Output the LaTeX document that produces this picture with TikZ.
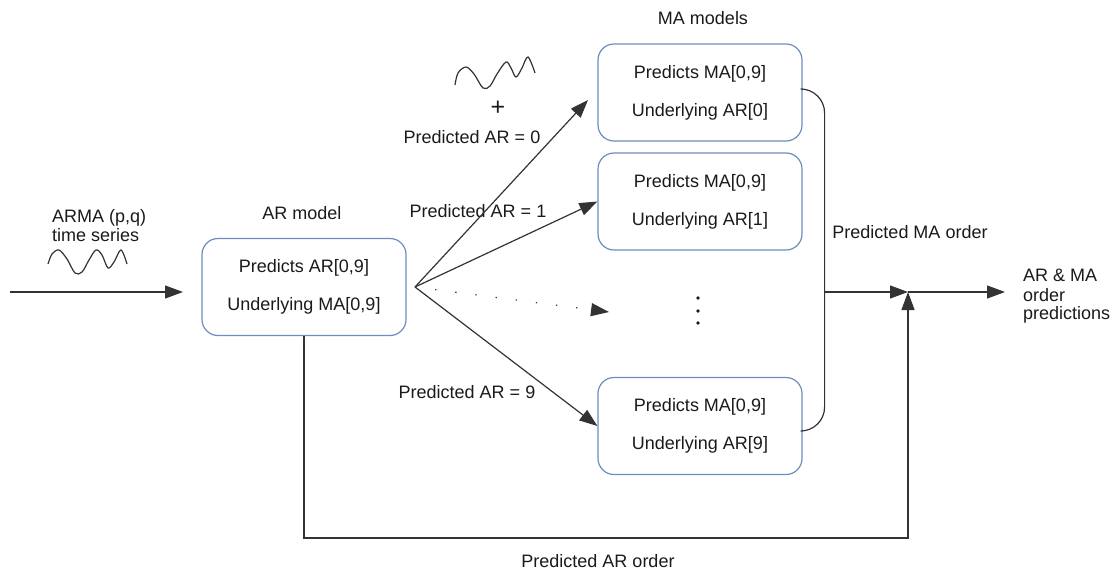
\documentclass[tikz,border=0pt]{standalone}
\usepackage{fontspec}
\setmainfont{Liberation Sans}
\usetikzlibrary{arrows.meta}
\definecolor{boxblue}{HTML}{6C8EBF}
\definecolor{ln}{HTML}{333333}
\definecolor{txt}{HTML}{1A1A1A}
\begin{document}
\begin{tikzpicture}[x=1pt,y=-1pt,
  font=\fontsize{18}{22}\selectfont, text=txt,
  modelbox/.style={draw=boxblue, line width=1.2pt, rounded corners=16pt,
    minimum width=204pt, minimum height=97pt, align=center, inner sep=0pt},
  conn/.style={draw=ln, line width=1.2pt},
  arr/.style={conn, -{Triangle[length=18pt,width=13pt]}},
  lbl/.style={inner sep=0pt},
  wave/.style={draw=ln, line width=1.2pt}
]
\useasboundingbox (0,0) rectangle (1118,575);

% model boxes
\node[modelbox] (ar)  at (304,287)   {Predicts AR[0,9]\\[16pt]Underlying MA[0,9]};
\node[modelbox] (ma0) at (700,92.5)  {Predicts MA[0,9]\\[16pt]Underlying AR[0]};
\node[modelbox] (ma1) at (700,201.5) {Predicts MA[0,9]\\[16pt]Underlying AR[1]};
\node[modelbox] (ma9) at (700,426)   {Predicts MA[0,9]\\[16pt]Underlying AR[9]};

% labels
\node[lbl] (armodel) at (302,213) {AR model};
\node[lbl] (mamodels) at (703,18) {MA models};
\node[lbl, anchor=west] (arma1) at (52,218) {ARMA (p,q)};
\node[lbl, anchor=west] (arma2) at (52,235) {time series};
\node[lbl, font=\fontsize{25}{28}\selectfont] (plus) at (498,108) {+};
\node[lbl] (p0) at (472,137) {Predicted AR = 0};
\node[lbl] (p1) at (478,211) {Predicted AR = 1};
\node[lbl] (p9) at (467,392) {Predicted AR = 9};
\node[lbl] (pma) at (910,232) {Predicted MA order};
\node[lbl] (par) at (598,561) {Predicted AR order};
\node[lbl, anchor=west] (out1) at (1023,275) {AR \& MA};
\node[lbl, anchor=west] (out2) at (1023,295) {order};
\node[lbl, anchor=west] (out3) at (1023,315) {predictions};

% waves
\draw[wave] plot[smooth, tension=0.55] coordinates
  {(48,264) (52,254) (59,250) (67,259) (75,273) (82,272) (89,260) (96,250) (102,255) (108,268) (114,262) (121,250) (127,264)};
\draw[wave] plot[smooth, tension=0.55] coordinates
  {(455,85) (458,73) (466,67) (474,74) (483,88) (490,86) (497,74) (506,62) (511,68) (516,77) (522,68) (528,57) (535,73)};

% vertical dots
\node[lbl, minimum size=30pt] (vd) at (698,311) {};
\fill[txt] (vd.center) ++(0,-13) circle (1.9) (vd.center) circle (1.9) (vd.center) ++(0,12) circle (1.9);

% coordinates
\coordinate (inStart) at (10,292);
\coordinate (inEnd) at (183,292);
\coordinate (fan) at (415,287);
\coordinate (e0) at (588,100);
\coordinate (e5) at (609,312);
\coordinate (join) at (908,292);
\coordinate (brk) at (824,292);
\coordinate (outEnd) at (1005,292);
\coordinate (bot) at (908,538);

% connectors
\draw[arr] (inStart) -- (inEnd);
\draw[arr] (fan) -- (e0);
\draw[arr] (fan) -- (ma1.west);
\draw[arr] (fan) -- (ma9.west);
\draw[arr, dash pattern=on 1.3pt off 19pt] (fan) -- (e5);
\draw[conn, rounded corners=24pt] ([yshift=3.5pt]ma0.east) -- ++(22,0) |- ([yshift=-5pt]ma9.east);
\draw[arr] (brk) -- (join);
\draw[arr] (join) -- (outEnd);
\draw[arr] (ar.south) |- (bot) -- (join);
\end{tikzpicture}
\end{document}
